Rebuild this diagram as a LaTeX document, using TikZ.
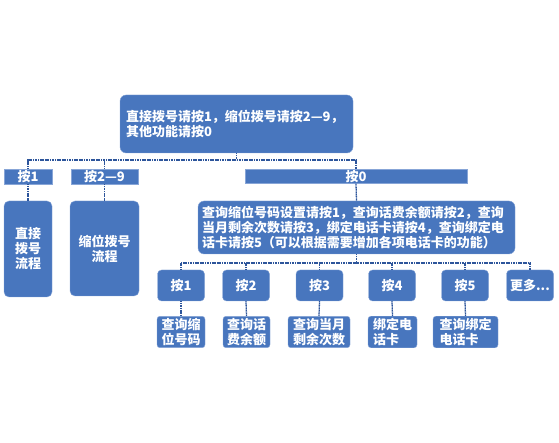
\documentclass[tikz,border=0pt]{standalone}
\usepackage{fontspec}
\setmainfont{Noto Sans CJK SC}
\definecolor{boxblue}{RGB}{72,118,190}
\definecolor{boxedge}{RGB}{135,165,215}
\definecolor{linkblue}{RGB}{45,85,155}
\begin{document}
\begin{tikzpicture}[x=1pt,y=-1pt,
box/.style={draw=boxedge,fill=boxblue,text=white,font=\bfseries\fontsize{13}{15}\selectfont,
  rounded corners=4pt,inner sep=2pt,align=center},
bartag/.style={box,rounded corners=0pt,minimum height=15pt,inner sep=0pt},
link/.style={draw=linkblue,line width=1.3pt,dash pattern=on 1.2pt off 0.5pt}]
\useasboundingbox (0,0) rectangle (559,443);
% top level
\node[box,text width=221pt,align=left,minimum height=58pt,inner xsep=6pt,rounded corners=6pt] (top) at (236.5,124)
 {直接拨号请按1，缩位拨号请按2—9，\\其他功能请按0};
\node[bartag,minimum width=48pt] (k1) at (28,176.5) {按1};
\node[bartag,minimum width=67pt] (k29) at (104.5,176.5) {按2—9};
\node[bartag,minimum width=222pt,minimum height=14pt] (k0) at (356,176.5) {按0};
\node[box,minimum width=48pt,minimum height=96pt,rounded corners=5pt] (f1) at (28,249) {直接\\拨号\\流程};
\node[box,minimum width=69pt,minimum height=95pt,rounded corners=5pt] (f29) at (104.5,248.5) {缩位拨号\\流程};
\node[box,text width=309pt,align=left,minimum height=53pt,inner xsep=4pt,rounded corners=6pt] (desc) at (356.5,227.5)
 {查询缩位号码设置请按1，查询话费余额请按2，查询\\当月剩余次数请按3，绑定电话卡请按4，查询绑定电\\话卡请按5（可以根据需要增加各项电话卡的功能）};
% keys under 0
\foreach \n/\x/\t in {1/181/按1,2/246/按2,3/319.5/按3,4/392/按4,5/465/按5,6/530/{更多...}}
 \node[box,minimum width=47pt,minimum height=31pt] (s\n) at (\x,285.5) {\t};
\foreach \n/\x/\w/\t in {1/181/48/{查询缩\\位号码},2/246.5/47/{查询话\\费余额},3/319/62/{查询当月\\剩余次数},
 4/392.5/49/{绑定电\\话卡},5/465.5/65/{查询绑定\\电话卡}}
 \node[box,align=left,minimum width=\w pt,minimum height=30pt,rounded corners=3pt] (r\n) at (\x,332) {\t};
% connectors
\coordinate (j1) at (236.5,160);
\coordinate (j2) at (356.5,263);
\draw[link] (top.south) -- (j1);
\draw[link] (k1.north) |- (j1) -| (k0.north);
\draw[link] (k29.north) -- (k29.north |- j1);
\draw[link] (desc.south) -- (j2);
\draw[link] (s1.north) |- (j2) -| (s6.north);
\foreach \n in {2,3,4,5}
 \draw[link] (s\n.north) -- (s\n.north |- j2);
\foreach \a/\b in {k1/f1,k29/f29,k0/desc,s1/r1,s2/r2,s3/r3,s4/r4,s5/r5}
 \draw[link] (\a.south) -- (\b.north);
\end{tikzpicture}
\end{document}
